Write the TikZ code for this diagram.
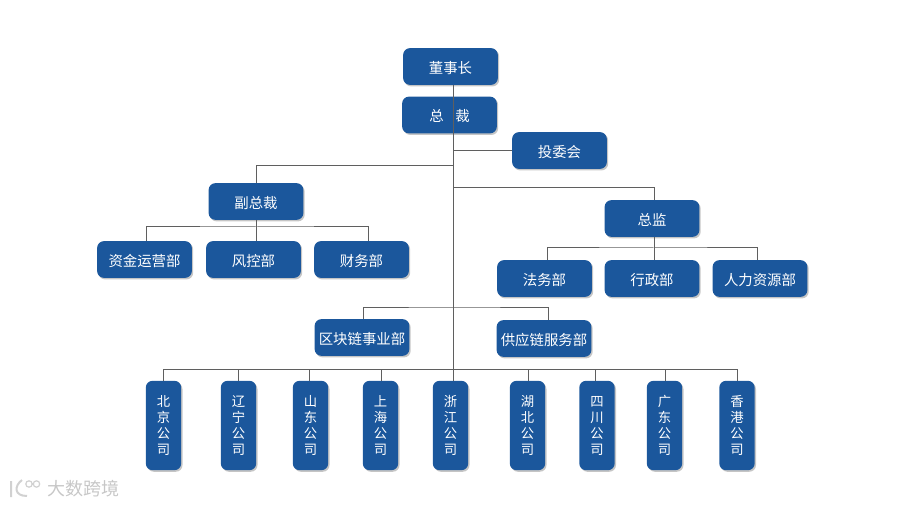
\documentclass[tikz,border=0pt]{standalone}
\usepackage{fontspec}
\setmainfont{Noto Sans CJK SC}
\usetikzlibrary{shadows}
\definecolor{boxblue}{RGB}{27,87,156}
\definecolor{linegray}{RGB}{95,95,95}
\tikzset{
    orgbox/.style={draw=none,fill=boxblue,rounded corners=5pt,minimum width=71pt,minimum height=27.5pt,inner sep=0pt,
        text=white,text height=11.5pt,text depth=1.2pt,font=\fontsize{10.8}{13}\selectfont,
        drop shadow={shadow xshift=1pt,shadow yshift=-1.2pt,fill=black!45,opacity=0.5}},
    cobox/.style={orgbox,text height=,text depth=,minimum width=26.5pt,minimum height=67pt,text width=26.5pt,align=center,font=\fontsize{10}{12}\selectfont},
    orgline/.style={draw=linegray,line width=0.75pt}
}
\begin{document}
\begin{tikzpicture}[x=0.75pt,y=-0.75pt]
    \useasboundingbox (0,0) rectangle (900,506);
    % top
    \node[orgbox] (chair) at (450.5,66.5){董事长};
    \node[orgbox] (ceo) at (449.5,115){总\hspace{0.8em}裁};
    \node[orgbox] (invest) at (559.5,150.5){投委会};
    % left branch
    \node[orgbox] (vp) at (256,201.5){副总裁};
    \node[orgbox] (fund) at (144.5,259.5){资金运营部};
    \node[orgbox] (risk) at (253.5,259.5){风控部};
    \node[orgbox] (fin) at (361.5,259.5){财务部};
    % right branch
    \node[orgbox] (dir) at (652,218.5){总监};
    \node[orgbox] (law) at (544.5,278.5){法务部};
    \node[orgbox] (admin) at (652,278.5){行政部};
    \node[orgbox] (hr) at (760,278.5){人力资源部};
    % middle
    \node[orgbox] (chain) at (362,337.5){区块链事业部};
    \node[orgbox] (supply) at (544,338.5){供应链服务部};
    % companies
    \node[cobox] (bj) at (163.5,425.5){北\\京\\公\\司};
    \node[cobox] (ln) at (238.5,425.5){辽\\宁\\公\\司};
    \node[cobox] (sd) at (310.5,425.5){山\\东\\公\\司};
    \node[cobox] (sh) at (380.5,425.5){上\\海\\公\\司};
    \node[cobox] (zj) at (450.5,425.5){浙\\江\\公\\司};
    \node[cobox] (hb) at (527.5,425.5){湖\\北\\公\\司};
    \node[cobox] (sc) at (597,425.5){四\\川\\公\\司};
    \node[cobox] (gd) at (664.5,425.5){广\\东\\公\\司};
    \node[cobox] (hk) at (737,425.5){香\\港\\公\\司};
    % bus lines
    \coordinate (trunk) at (453,166);
    \coordinate (vpbus) at (256.5,227);
    \coordinate (dirbus) at (654,248);
    \coordinate (midbus) at (453,307);
    \coordinate (cobus) at (453,369.5);
    \draw[orgline] (trunk|-chair.south)--(trunk|-zj.north);
    \draw[orgline] (trunk|-invest.west)--(invest.west);
    \draw[orgline] (trunk)-|(vpbus|-vp.north);
    \draw[orgline] (453,188)-|(dirbus|-dir.north);
    \draw[orgline] (chain.north-|363,0)|-(midbus)-|(supply.north-|548,0);
    \draw[orgline] (vpbus|-vp.south)--(vpbus|-risk.north);
    \draw[orgline] (fund.north-|146,0)|-(vpbus)-|(fin.north-|368,0);
    \draw[orgline] (dirbus|-dir.south)--(dirbus|-admin.north);
    \draw[orgline] (law.north-|547,0)|-(dirbus)-|(hr.north-|757,0);
    \draw[orgline] (bj.north-|163,0)|-(cobus)-|(hk.north);
    \foreach \co/\xx in {ln/238,sd/309,sh/381,hb/528,sc/595,gd/665}
        \draw[orgline] (\xx,369.5)--(\co.north-|\xx,0);
    % watermark
    \node[text=black!22,font=\fontsize{13.5}{15}\selectfont,anchor=west] (mark) at (43,489){大数跨境};
    \draw[black!18,line width=1.5pt] (11,481)--(11,497) (22,480)..controls (14,486) and (14,496) .. (27,496);
    \draw[black!18,line width=0.9pt] (29,484) circle (3.2) (36.5,484) circle (3.2);
\end{tikzpicture}
\end{document}
